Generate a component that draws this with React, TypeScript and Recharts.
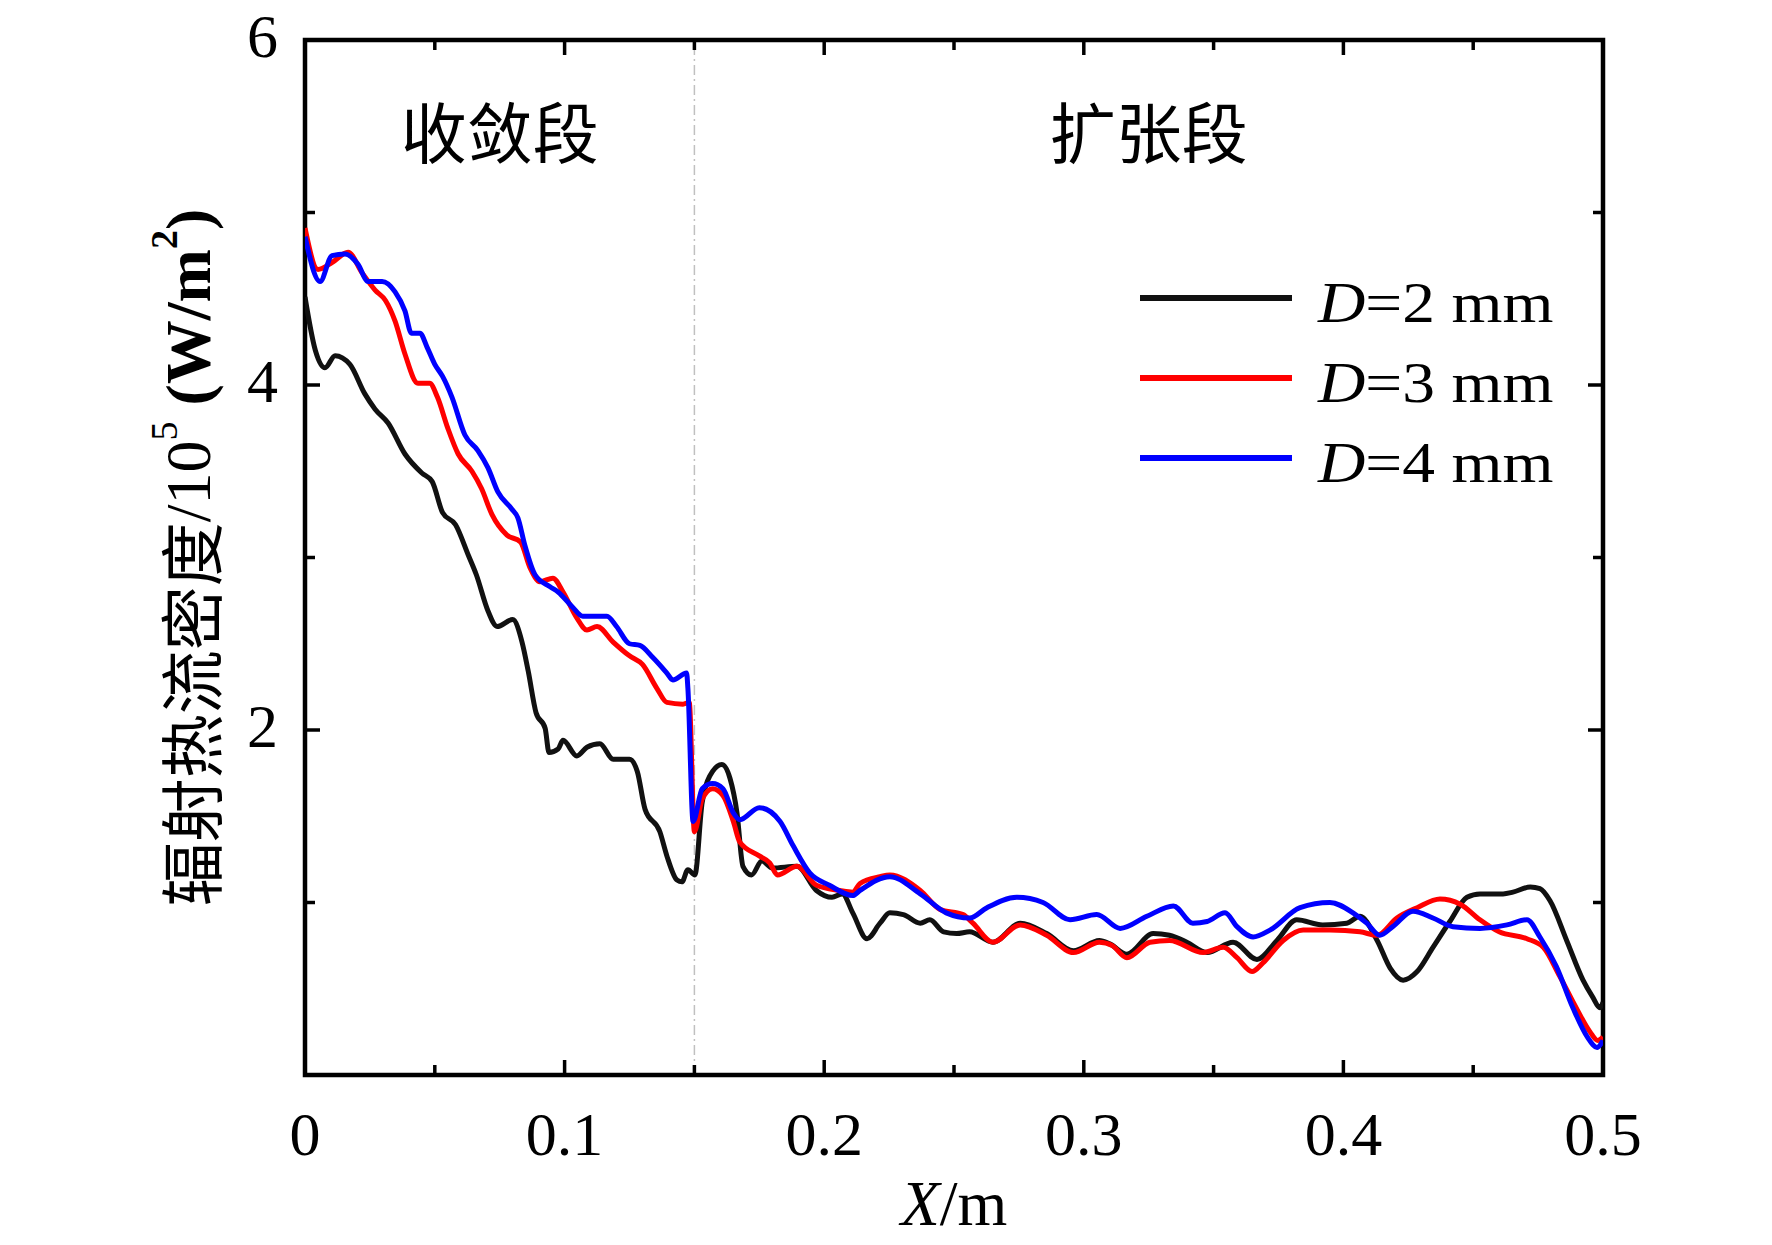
import React from 'react';
import { LineChart, Line, XAxis, YAxis, ReferenceLine, ReferenceArea, Legend } from 'recharts';

const SERIF = '"Liberation Serif", "Times New Roman", "Noto Sans CJK SC", serif';
const CJK = '"Noto Sans CJK SC", "Noto Sans CJK JP", sans-serif';

// ---------- data ----------
const X_TICKS = [0, 0.05, 0.1, 0.15, 0.2, 0.25, 0.3, 0.35, 0.4, 0.45, 0.5];
const Y_TICKS = [0, 1, 2, 3, 4, 5, 6];
const Y_LABELED = [2, 4, 6];

const D2_X = [0, 0.004, 0.0077, 0.0116, 0.0173, 0.023, 0.027, 0.032, 0.0385, 0.045, 0.049, 0.053, 0.058, 0.063, 0.066, 0.0705, 0.074, 0.08, 0.0836, 0.086, 0.089, 0.0925, 0.094, 0.0975, 0.0994, 0.1047, 0.1086, 0.1136, 0.1187, 0.125, 0.128, 0.131, 0.1367, 0.1394, 0.1433, 0.1452, 0.1475, 0.1502, 0.153, 0.157, 0.1606, 0.1637, 0.1664, 0.1687, 0.172, 0.176, 0.18, 0.1895, 0.197, 0.203, 0.207, 0.211, 0.2165, 0.2215, 0.2253, 0.2305, 0.237, 0.2407, 0.246, 0.251, 0.256, 0.265, 0.2755, 0.2857, 0.296, 0.306, 0.31, 0.3166, 0.3267, 0.333, 0.3397, 0.3475, 0.3575, 0.3667, 0.3744, 0.382, 0.392, 0.4013, 0.4064, 0.413, 0.418, 0.423, 0.4284, 0.4345, 0.441, 0.4476, 0.4526, 0.4615, 0.4653, 0.472, 0.4757, 0.4796, 0.486, 0.4923, 0.4961, 0.4988, 0.5];
const D2_Y = [4.51, 4.2, 4.1, 4.17, 4.12, 3.95, 3.86, 3.78, 3.6, 3.49, 3.44, 3.26, 3.19, 3.01, 2.9, 2.69, 2.6, 2.64, 2.51, 2.34, 2.1, 2.01, 1.87, 1.89, 1.94, 1.85, 1.9, 1.92, 1.83, 1.83, 1.76, 1.54, 1.41, 1.27, 1.13, 1.12, 1.19, 1.16, 1.58, 1.76, 1.8, 1.72, 1.52, 1.21, 1.16, 1.24, 1.2, 1.21, 1.07, 1.03, 1.05, 0.94, 0.79, 0.88, 0.94, 0.93, 0.88, 0.9, 0.83, 0.82, 0.83, 0.77, 0.88, 0.82, 0.72, 0.78, 0.76, 0.7, 0.82, 0.81, 0.77, 0.71, 0.77, 0.67, 0.78, 0.9, 0.87, 0.88, 0.92, 0.78, 0.62, 0.55, 0.6, 0.74, 0.89, 1.03, 1.05, 1.05, 1.06, 1.09, 1.08, 1.01, 0.78, 0.55, 0.45, 0.39, 0.42];

const D3_X = [0, 0.005, 0.0104, 0.0166, 0.022, 0.027, 0.031, 0.0347, 0.0385, 0.0435, 0.048, 0.051, 0.055, 0.059, 0.0643, 0.068, 0.072, 0.0778, 0.083, 0.0867, 0.0905, 0.0955, 0.0994, 0.1047, 0.1086, 0.1125, 0.1187, 0.125, 0.13, 0.1356, 0.1394, 0.1456, 0.148, 0.15, 0.153, 0.157, 0.161, 0.165, 0.1675, 0.175, 0.179, 0.182, 0.1895, 0.197, 0.206, 0.211, 0.2138, 0.2215, 0.2253, 0.237, 0.2446, 0.2535, 0.2573, 0.265, 0.2755, 0.2857, 0.296, 0.306, 0.311, 0.3166, 0.3255, 0.333, 0.346, 0.3537, 0.359, 0.3648, 0.369, 0.3768, 0.3845, 0.3948, 0.4064, 0.413, 0.4206, 0.4284, 0.4372, 0.445, 0.4526, 0.46, 0.4707, 0.477, 0.4834, 0.49, 0.495, 0.498, 0.5];
const D3_Y = [4.91, 4.67, 4.71, 4.77, 4.65, 4.55, 4.49, 4.37, 4.18, 4.01, 4.01, 3.93, 3.75, 3.6, 3.5, 3.4, 3.25, 3.13, 3.09, 2.94, 2.86, 2.88, 2.8, 2.65, 2.58, 2.6, 2.51, 2.43, 2.38, 2.24, 2.16, 2.15, 2.16, 1.41, 1.6, 1.66, 1.62, 1.47, 1.35, 1.27, 1.23, 1.16, 1.21, 1.1, 1.07, 1.06, 1.11, 1.15, 1.16, 1.07, 0.96, 0.93, 0.88, 0.77, 0.87, 0.81, 0.71, 0.77, 0.75, 0.68, 0.77, 0.78, 0.71, 0.74, 0.68, 0.6, 0.65, 0.78, 0.84, 0.84, 0.83, 0.81, 0.91, 0.97, 1.02, 0.99, 0.9, 0.83, 0.79, 0.74, 0.57, 0.38, 0.25, 0.2, 0.22];

const D4_X = [0, 0.0058, 0.0104, 0.0154, 0.0204, 0.0243, 0.0297, 0.0347, 0.0385, 0.041, 0.0443, 0.047, 0.05, 0.053, 0.0566, 0.0616, 0.0666, 0.0705, 0.0743, 0.0797, 0.082, 0.0847, 0.0886, 0.0944, 0.0975, 0.1032, 0.107, 0.1163, 0.12, 0.125, 0.129, 0.134, 0.1394, 0.1417, 0.147, 0.1475, 0.1495, 0.153, 0.157, 0.161, 0.165, 0.1675, 0.175, 0.183, 0.188, 0.1945, 0.202, 0.211, 0.2138, 0.2253, 0.237, 0.247, 0.256, 0.2627, 0.2742, 0.2843, 0.2947, 0.305, 0.314, 0.3243, 0.3345, 0.342, 0.3475, 0.3544, 0.359, 0.3652, 0.3717, 0.3833, 0.3948, 0.4037, 0.409, 0.414, 0.419, 0.4268, 0.4345, 0.4422, 0.4526, 0.463, 0.4707, 0.4757, 0.482, 0.4884, 0.494, 0.4977, 0.5];
const D4_Y = [4.86, 4.6, 4.75, 4.76, 4.7, 4.6, 4.6, 4.54, 4.43, 4.3, 4.3, 4.22, 4.12, 4.05, 3.93, 3.71, 3.62, 3.52, 3.38, 3.28, 3.23, 3.07, 2.9, 2.83, 2.8, 2.71, 2.66, 2.66, 2.6, 2.5, 2.49, 2.42, 2.33, 2.29, 2.33, 2.24, 1.47, 1.66, 1.69, 1.66, 1.52, 1.48, 1.55, 1.47, 1.33, 1.17, 1.1, 1.04, 1.07, 1.15, 1.05, 0.94, 0.91, 0.97, 1.03, 1.0, 0.9, 0.93, 0.85, 0.92, 0.98, 0.88, 0.89, 0.94, 0.86, 0.8, 0.84, 0.97, 1.0, 0.94, 0.88, 0.81, 0.86, 0.95, 0.91, 0.86, 0.85, 0.87, 0.9, 0.8, 0.63, 0.39, 0.22, 0.16, 0.2];

const SERIES = [
  { key: 'd2', label: '2', color: '#111111', xs: D2_X, ys: D2_Y },
  { key: 'd3', label: '3', color: '#ff0000', xs: D3_X, ys: D3_Y },
  { key: 'd4', label: '4', color: '#0000ff', xs: D4_X, ys: D4_Y },
];

const toRows = (xs: number[], ys: number[]) => xs.map((x, i) => ({ x, y: ys[i] }));

const isMajorX = (v: number) => Math.abs(v * 10 - Math.round(v * 10)) < 1e-6;
const isMajorY = (v: number) => Math.round(v) % 2 === 0;
const fmtX = (v: number) => (v === 0 ? '0' : String(Math.round(v * 10) / 10));

const TICK_W = 3.5;
const MAJOR = 15;
const MINOR = 10;

// ---------- tick renderers ----------
const BottomTick = (props: any) => {
  const { x, y, payload } = props;
  const major = isMajorX(payload.value);
  return (
    <g>
      <line x1={x} x2={x} y1={y} y2={y - (major ? MAJOR : MINOR)} stroke="#000" strokeWidth={TICK_W} />
      {major && (
        <text x={x} y={y + 80} textAnchor="middle" fontSize={62} fontFamily={SERIF} fill="#000">
          {fmtX(payload.value)}
        </text>
      )}
    </g>
  );
};

const TopTick = (props: any) => {
  const { x, y, payload } = props;
  const major = isMajorX(payload.value);
  return <line x1={x} x2={x} y1={y} y2={y + (major ? MAJOR : MINOR)} stroke="#000" strokeWidth={TICK_W} />;
};

const LeftTick = (props: any) => {
  const { x, y, payload } = props;
  const major = isMajorY(payload.value);
  const labeled = Y_LABELED.includes(payload.value);
  return (
    <g>
      <line x1={x} x2={x + (major ? MAJOR : MINOR)} y1={y} y2={y} stroke="#000" strokeWidth={TICK_W} />
      {labeled && (
        <text x={x - 27} y={y + 17} textAnchor="end" fontSize={62} fontFamily={SERIF} fill="#000">
          {payload.value}
        </text>
      )}
    </g>
  );
};

const RightTick = (props: any) => {
  const { x, y, payload } = props;
  const major = isMajorY(payload.value);
  return <line x1={x} x2={x - (major ? MAJOR : MINOR)} y1={y} y2={y} stroke="#000" strokeWidth={TICK_W} />;
};

// ---------- labels ----------
const renderXLabel = (props: any) => {
  const vb = props.viewBox || {};
  return (
    <text x={vb.x + vb.width / 2} y={vb.y + 150} textAnchor="middle" fontSize={64} fontFamily={SERIF} fill="#000">
      <tspan fontStyle="italic">X</tspan>
      <tspan>/m</tspan>
    </text>
  );
};

const renderYLabel = (props: any) => {
  const vb = props.viewBox || {};
  const cx = vb.x - 37;
  const cy = vb.y + vb.height / 2;
  return (
    <text
      transform={`translate(${cx},${cy}) rotate(-90)`}
      textAnchor="middle"
      dominantBaseline="central"
      fontSize={64}
      fontFamily={SERIF}
      fill="#000"
    >
      <tspan fontFamily={CJK}>辐射热流密度</tspan>
      <tspan>/10</tspan>
      <tspan fontSize={38} dy={-24}>5</tspan>
      <tspan dy={24} fontWeight="bold"> (W/m</tspan>
      <tspan fontSize={38} dy={-24} fontWeight="bold">2</tspan>
      <tspan dy={24} fontWeight="bold">)</tspan>
    </text>
  );
};

const sectionLabel = (text: string) => (props: any) => {
  const vb = props.viewBox || {};
  return (
    <text x={vb.x + vb.width / 2} y={vb.y + 118} textAnchor="middle" fontSize={66} fontFamily={CJK} fill="#000">
      {text}
    </text>
  );
};

const renderLegend = () => (
  <svg width={460} height={240} style={{ display: 'block', overflow: 'visible' }}>
    {SERIES.map((s, i) => (
      <g key={s.key}>
        <line x1={0} x2={152} y1={38 + 80 * i} y2={38 + 80 * i} stroke={s.color} strokeWidth={6} />
        <g transform={`translate(178 ${62 + 80 * i}) scale(1.13 1)`}>
          <text x={0} y={0} fontSize={58} fontFamily={SERIF} fill="#000">
            <tspan fontStyle="italic">D</tspan>
            <tspan>{`=${s.label} mm`}</tspan>
          </text>
        </g>
      </g>
    ))}
  </svg>
);

export default function App() {
  return (
    <div style={{ position: 'absolute', left: 0, top: 0, width: 1772, height: 1245, background: '#fff' }}>
      <LineChart width={1772} height={1245} margin={{ top: 39, right: 168, bottom: 110, left: 225 }}>
        <XAxis
          xAxisId="b"
          type="number"
          dataKey="x"
          domain={[0, 0.5]}
          ticks={X_TICKS}
          interval={0}
          height={60}
          allowDataOverflow
          axisLine={false}
          tickLine={false}
          tickSize={0}
          tickMargin={0}
          tick={<BottomTick />}
          label={renderXLabel}
        />
        <XAxis
          xAxisId="t"
          orientation="top"
          type="number"
          dataKey="x"
          domain={[0, 0.5]}
          ticks={X_TICKS}
          interval={0}
          height={1}
          allowDataOverflow
          axisLine={false}
          tickLine={false}
          tickSize={0}
          tickMargin={0}
          tick={<TopTick />}
        />
        <YAxis
          yAxisId="l"
          type="number"
          domain={[0, 6]}
          ticks={Y_TICKS}
          interval={0}
          width={80}
          allowDataOverflow
          axisLine={false}
          tickLine={false}
          tickSize={0}
          tickMargin={0}
          tick={<LeftTick />}
          label={renderYLabel}
        />
        <YAxis
          yAxisId="r"
          orientation="right"
          type="number"
          domain={[0, 6]}
          ticks={Y_TICKS}
          interval={0}
          width={1}
          allowDataOverflow
          axisLine={false}
          tickLine={false}
          tickSize={0}
          tickMargin={0}
          tick={<RightTick />}
        />
        <ReferenceArea
          xAxisId="b"
          yAxisId="l"
          x1={0}
          x2={0.5}
          y1={0}
          y2={6}
          fill="none"
          fillOpacity={0}
          stroke="#000"
          strokeWidth={4.5}
          ifOverflow="visible"
        />
        <ReferenceArea xAxisId="b" yAxisId="l" x1={0} x2={0.15} fill="none" fillOpacity={0} stroke="none" label={sectionLabel('收敛段')} />
        <ReferenceArea xAxisId="b" yAxisId="l" x1={0.15} x2={0.5} fill="none" fillOpacity={0} stroke="none" label={sectionLabel('扩张段')} />
        <ReferenceLine xAxisId="b" yAxisId="l" x={0.15} stroke="#c0c0c0" strokeWidth={1.5} strokeDasharray="10 4 2 4" />
        {SERIES.map((s) => (
          <Line
            key={s.key}
            xAxisId="b"
            yAxisId="l"
            data={toRows(s.xs, s.ys)}
            dataKey="y"
            type="monotone"
            stroke={s.color}
            strokeWidth={5}
            dot={false}
            activeDot={false}
            isAnimationActive={false}
          />
        ))}
        <Legend
          layout="vertical"
          align="center"
          verticalAlign="middle"
          content={renderLegend}
          wrapperStyle={{ left: 1140, top: 260, width: 460, height: 240 }}
        />
      </LineChart>
    </div>
  );
}
